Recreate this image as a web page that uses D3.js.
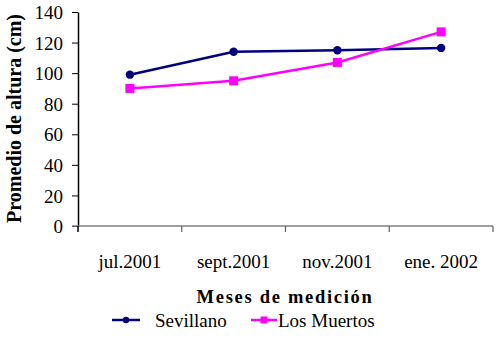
<!DOCTYPE html>
<html>
<head>
<meta charset="utf-8">
<script src="https://cdn.jsdelivr.net/npm/d3@7"></script>
<style>
  html, body { margin: 0; padding: 0; background: #fff; }
  svg { display: block; }
  text { font-family: "Liberation Serif", "Times New Roman", serif; fill: #000; }
</style>
</head>
<body>
<svg id="chart" width="500" height="341"></svg>
<script>
// Monthly measurement dates
const months = ["jul.2001", "sept.2001", "nov.2001", "ene. 2002"];
// Mean plant height (cm) per site
const sevillano = [99, 114, 115, 116.5];
const losMuertos = [90, 95, 107, 127];
const yTicks = [0, 20, 40, 60, 80, 100, 120, 140];

const series = [
  { name: "Sevillano", values: sevillano, color: "#000080", marker: "circle" },
  { name: "Los Muertos", values: losMuertos, color: "#FF00FF", marker: "square" }
];

const svg = d3.select("#chart");
const plotLeft = 78, plotRight = 493, plotTop = 12, plotBottom = 226;

const x = d3.scaleBand().domain(months).range([plotLeft, plotRight]).paddingInner(0).paddingOuter(0);
const y = d3.scaleLinear().domain([0, 140]).range([plotBottom, plotTop]);

// Y axis
const yAxis = svg.append("g").attr("transform", `translate(${plotLeft},0)`)
  .call(d3.axisLeft(y).tickValues(yTicks).tickSize(6).tickPadding(9).tickSizeOuter(0));
yAxis.attr("font-family", null).attr("font-size", null);
yAxis.select(".domain").attr("stroke", "#000").attr("stroke-width", 1.5);
yAxis.selectAll(".tick line").attr("stroke", "#000").attr("stroke-width", 1);
yAxis.selectAll(".tick text").style("font-size", "19px").attr("dy", "0.35em");

// X axis (gray), with tick marks on category boundaries
const xg = svg.append("g");
xg.append("line").attr("x1", plotLeft - 6).attr("x2", plotRight).attr("y1", plotBottom).attr("y2", plotBottom)
  .attr("stroke", "#808080").attr("stroke-width", 1.5);
const boundaries = months.map(m => x(m)).concat([x(months[months.length - 1]) + x.bandwidth()]);
xg.selectAll("line.tk").data(boundaries.slice(1)).enter().append("line")
  .attr("class", "tk")
  .attr("x1", d => d).attr("x2", d => d)
  .attr("y1", plotBottom).attr("y2", plotBottom + 6)
  .attr("stroke", "#606060").attr("stroke-width", 1.2);
// y axis continues slightly below the baseline
svg.append("line").attr("x1", plotLeft).attr("x2", plotLeft).attr("y1", plotBottom).attr("y2", plotBottom + 6)
  .attr("stroke", "#000").attr("stroke-width", 1.5);

xg.selectAll("text.lbl").data(months).enter().append("text")
  .attr("class", "lbl")
  .attr("x", d => x(d) + x.bandwidth() / 2)
  .attr("y", 268)
  .attr("text-anchor", "middle")
  .style("font-size", "19px")
  .text(d => d);

// Axis titles
svg.append("text")
  .attr("x", 285).attr("y", 303)
  .attr("text-anchor", "middle")
  .style("font-size", "18.5px").style("font-weight", "bold").style("letter-spacing", "1.7px")
  .text("Meses de medición");

svg.append("text")
  .attr("transform", `translate(21,${(10 + 227) / 2}) rotate(-90)`)
  .attr("text-anchor", "middle")
  .style("font-size", "20px").style("font-weight", "bold")
  .text("Promedio de altura (cm)");

// Lines and markers
const line = d3.line().x((d, i) => x(months[i]) + x.bandwidth() / 2).y(d => y(d));
series.forEach(s => {
  const g = svg.append("g");
  g.append("path").datum(s.values).attr("d", line)
    .attr("fill", "none").attr("stroke", s.color).attr("stroke-width", 2.5);
  if (s.marker === "circle") {
    g.selectAll("circle").data(s.values).enter().append("circle")
      .attr("cx", (d, i) => x(months[i]) + x.bandwidth() / 2)
      .attr("cy", d => y(d)).attr("r", 4.2).attr("fill", s.color);
  } else {
    g.selectAll("rect").data(s.values).enter().append("rect")
      .attr("x", (d, i) => x(months[i]) + x.bandwidth() / 2 - 4.5)
      .attr("y", d => y(d) - 4.5).attr("width", 9).attr("height", 9).attr("fill", s.color);
  }
});

// Legend
const legendItems = [
  { s: series[0], x0: 112, x1: 140, tx: 155 },
  { s: series[1], x0: 251, x1: 277, tx: 278 }
];
const ly = 320;
legendItems.forEach(it => {
  const g = svg.append("g");
  g.append("line").attr("x1", it.x0).attr("x2", it.x1).attr("y1", ly).attr("y2", ly)
    .attr("stroke", it.s.color).attr("stroke-width", 2.5);
  const cx = (it.x0 + it.x1) / 2;
  if (it.s.marker === "circle") {
    g.append("circle").attr("cx", cx).attr("cy", ly).attr("r", 3.2).attr("fill", it.s.color);
  } else {
    g.append("rect").attr("x", cx - 3.5).attr("y", ly - 3.5).attr("width", 7).attr("height", 7).attr("fill", it.s.color);
  }
  g.append("text").attr("x", it.tx).attr("y", ly + 7).style("font-size", "19px").text(it.s.name);
});
</script>
</body>
</html>
